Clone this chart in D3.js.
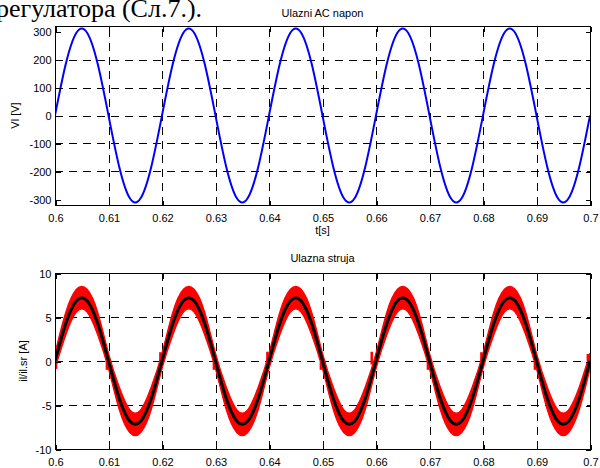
<!DOCTYPE html>
<html><head><meta charset="utf-8">
<script src="https://cdn.jsdelivr.net/npm/d3@7"></script>
<style>
body{margin:0;background:#fff}
svg{display:block}
text{font-family:"Liberation Sans",Arial,Helvetica,sans-serif;fill:#000}
</style>
</head><body><svg id="c" width="600" height="468"></svg>
<script>
// ---------------- data ----------------
const time = [0.600,0.602,0.604,0.606,0.608,0.610,0.612,0.614,0.616,0.618,
              0.620,0.622,0.624,0.626,0.628,0.630,0.632,0.634,0.636,0.638,
              0.640,0.642,0.644,0.646,0.648,0.650,0.652,0.654,0.656,0.658,
              0.660,0.662,0.664,0.666,0.668,0.670,0.672,0.674,0.676,0.678,
              0.680,0.682,0.684,0.686,0.688,0.690,0.692,0.694,0.696,0.698,0.700];
// input AC voltage Vl [V]
const vin = [0,183,296,296,183,0,-183,-296,-296,-183,
             0,183,296,296,183,0,-183,-296,-296,-183,
             0,183,296,296,183,0,-183,-296,-296,-183,
             0,183,296,296,183,0,-183,-296,-296,-183,
             0,183,296,296,183,0,-183,-296,-296,-183,0];
// averaged input current il.sr [A]
const iAvg = [0,4.23,6.85,6.85,4.23,0,-4.23,-6.85,-6.85,-4.23,
              0,4.23,6.85,6.85,4.23,0,-4.23,-6.85,-6.85,-4.23,
              0,4.23,6.85,6.85,4.23,0,-4.23,-6.85,-6.85,-4.23,
              0,4.23,6.85,6.85,4.23,0,-4.23,-6.85,-6.85,-4.23,
              0,4.23,6.85,6.85,4.23,0,-4.23,-6.85,-6.85,-4.23,0];
// switching ripple half-width of il [A]
const iRipple = [0.9,1.3,1.3,1.3,1.3,0.9,1.3,1.3,1.3,1.3,
                 0.9,1.3,1.3,1.3,1.3,0.9,1.3,1.3,1.3,1.3,
                 0.9,1.3,1.3,1.3,1.3,0.9,1.3,1.3,1.3,1.3,
                 0.9,1.3,1.3,1.3,1.3,0.9,1.3,1.3,1.3,1.3,
                 0.9,1.3,1.3,1.3,1.3,0.9,1.3,1.3,1.3,1.3,0.9];
// zero-crossing spikes of il
const spikeT  = [0.6002,0.6097,0.6197,0.6297,0.6397,0.6497,0.6592,0.6697,0.6797,0.6897,0.6996];
const spikeLo = [-0.9,-1.0,0.0,-1.0,-0.1,-1.0,-0.4,-1.0,0.0,-1.0,0.0];
const spikeHi = [0.2,0.0,1.0,0.1,1.05,-0.1,1.05,0.0,1.0,0.0,0.8];

const xTicks = [0.6,0.61,0.62,0.63,0.64,0.65,0.66,0.67,0.68,0.69,0.7];
const xTickLabels = ["0.6","0.61","0.62","0.63","0.64","0.65","0.66","0.67","0.68","0.69","0.7"];
const vTicks = [-300,-200,-100,0,100,200,300];
const vTickLabels = ["-300","-200","-100","0","100","200","300"];
const iTicks = [-10,-5,0,5,10];
const iTickLabels = ["-10","-5","0","5","10"];

// ---------------- drawing ----------------
const svg = d3.select("#c");
svg.append("rect").attr("width",600).attr("height",468).attr("fill","#fff");

// paragraph fragment at the very top
svg.append("text").attr("x",-4).attr("y",17)
  .style("font-family","'Liberation Serif','Times New Roman',serif")
  .style("font-size","26px")
  .text("регулатора (Сл.7.).");

function panel(cfg){
  const {top,bottom,left,right,yDomain,yTicks,yLabels,title,titleY,ylabel,ylabelX,xlabel,xLabelY,id} = cfg;
  const x = d3.scaleLinear().domain([0.6,0.7]).range([left,right]);
  const y = d3.scaleLinear().domain(yDomain).range([bottom,top]);
  const g = svg.append("g");
  g.append("clipPath").attr("id",id).append("rect")
    .attr("x",left).attr("y",top).attr("width",right-left).attr("height",bottom-top);
  // grid
  const grid = g.append("g").attr("stroke","#000").attr("stroke-width",1)
     .attr("stroke-dasharray","8,6").attr("shape-rendering","crispEdges");
  grid.selectAll(".gx").data(xTicks.slice(1,-1)).join("line")
     .attr("x1",d=>Math.round(x(d))+0.5).attr("x2",d=>Math.round(x(d))+0.5)
     .attr("y1",bottom).attr("y2",top);
  grid.selectAll(".gy").data(yTicks.slice(1,-1)).join("line")
     .attr("y1",d=>Math.round(y(d))+0.5).attr("y2",d=>Math.round(y(d))+0.5)
     .attr("x1",left).attr("x2",right);
  const plot = g.append("g").attr("clip-path",`url(#${id})`);
  cfg.draw(plot,x,y);
  // frame
  g.append("rect").attr("x",left+0.5).attr("y",top+0.5)
    .attr("width",right-left).attr("height",bottom-top)
    .attr("fill","none").attr("stroke","#000").attr("stroke-width",1).attr("shape-rendering","crispEdges");
  // axes (ticks inside) using d3 axes
  const tl = 5;
  const axB = d3.axisBottom(x).tickValues(xTicks).tickFormat((d,i)=>xTickLabels[i]).tickSizeInner(-tl).tickSizeOuter(0).tickPadding(9);
  const axT = d3.axisTop(x).tickValues(xTicks).tickFormat("").tickSizeInner(-tl).tickSizeOuter(0);
  const axL = d3.axisLeft(y).tickValues(yTicks).tickFormat((d,i)=>yLabels[i]).tickSizeInner(-tl).tickSizeOuter(0).tickPadding(4);
  const axR = d3.axisRight(y).tickValues(yTicks).tickFormat("").tickSizeInner(-tl).tickSizeOuter(0);
  const style = s => { s.select(".domain").remove(); s.selectAll("line").attr("stroke","#000").attr("shape-rendering","crispEdges");
    s.selectAll("text").style("font-size","11px").style("font-family","'Liberation Sans',Arial,sans-serif").attr("fill","#000"); };
  g.append("g").attr("transform",`translate(0.5,${bottom+0.5})`).call(axB).call(style);
  g.append("g").attr("transform",`translate(0.5,${top+0.5})`).call(axT).call(style);
  g.append("g").attr("transform",`translate(${left+0.5},0.5)`).call(axL).call(style);
  g.append("g").attr("transform",`translate(${right+0.5},0.5)`).call(axR).call(style);
  // title
  g.append("text").attr("x",(left+right)/2).attr("y",titleY).attr("text-anchor","middle")
    .style("font-size","11px").text(title);
  g.append("text").attr("transform",`translate(${ylabelX},${(top+bottom)/2}) rotate(-90)`)
    .attr("text-anchor","middle").style("font-size","11px").text(ylabel);
  if(xlabel){
    g.append("text").attr("x",(left+right)/2).attr("y",xLabelY).attr("text-anchor","middle")
      .style("font-size","11px").text(xlabel);
  }
}

panel({id:"clipA",top:26,bottom:205,left:55,right:590,yDomain:[-320,320],yTicks:vTicks,yLabels:vTickLabels,
  title:"Ulazni AC napon",titleY:17,ylabel:"Vl [V]",ylabelX:19,xlabel:"t[s]",xLabelY:234,
  draw:(p,x,y)=>{
    const line = d3.line().x((d,i)=>x(time[i])).y(d=>y(d)).curve(d3.curveNatural);
    p.append("path").attr("d",line(vin)).attr("fill","none").attr("stroke","#0000ff").attr("stroke-width",2);
  }});

panel({id:"clipB",top:273,bottom:449,left:55,right:590,yDomain:[-10,10],yTicks:iTicks,yLabels:iTickLabels,
  title:"Ulazna struja",titleY:262,ylabel:"il/il.sr [A]",ylabelX:27,
  draw:(p,x,y)=>{
    const area = d3.area().x((d,i)=>x(time[i]))
       .y0((d,i)=>y(d-iRipple[i])).y1((d,i)=>y(d+iRipple[i])).curve(d3.curveNatural);
    p.append("path").attr("d",area(iAvg)).attr("fill","#ff0000").attr("stroke","#ff0000").attr("stroke-width",1.2);
    p.selectAll(".sp").data(spikeT).join("line")
      .attr("x1",d=>x(d)).attr("x2",d=>x(d))
      .attr("y1",(d,i)=>y(spikeLo[i])).attr("y2",(d,i)=>y(spikeHi[i]))
      .attr("stroke","#ff0000").attr("stroke-width",2.5);
    const line = d3.line().x((d,i)=>x(time[i])).y(d=>y(d)).curve(d3.curveNatural);
    p.append("path").attr("d",line(iAvg)).attr("fill","none").attr("stroke","#000").attr("stroke-width",3);
  }});
</script>
</body></html>
